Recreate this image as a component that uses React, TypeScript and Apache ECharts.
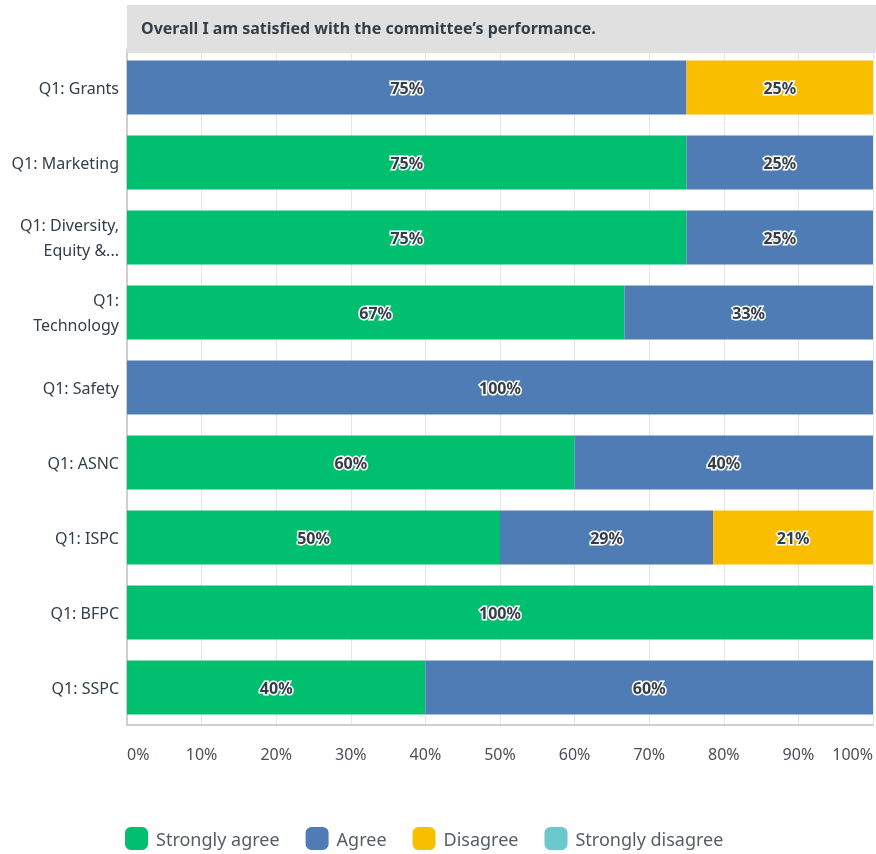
import React, { useEffect, useRef } from "react";
import * as echarts from "echarts";

const categories = [
  "Q1: Grants",
  "Q1: Marketing",
  "Q1: Diversity,\nEquity &...",
  "Q1:\nTechnology",
  "Q1: Safety",
  "Q1: ASNC",
  "Q1: ISPC",
  "Q1: BFPC",
  "Q1: SSPC",
];
const seriesNames = ["Strongly agree", "Agree", "Disagree", "Strongly disagree"];
const stronglyAgree = [0, 75, 75, 66.67, 0, 60, 50, 100, 40];
const agree = [75, 25, 25, 33.33, 100, 40, 28.57, 0, 60];
const disagree = [25, 0, 0, 0, 0, 0, 21.43, 0, 0];
const stronglyDisagree = [0, 0, 0, 0, 0, 0, 0, 0, 0];
const xTicks = [0, 10, 20, 30, 40, 50, 60, 70, 80, 90, 100];
const title = "Overall I am satisfied with the committee\u2019s performance.";

const colors = ["#00bf6f", "#507cb6", "#f9be00", "#6bc8cd"];
const FONT = "Noto Sans";

export default function App() {
  const ref = useRef<HTMLDivElement>(null);
  useEffect(() => {
    if (!ref.current) return;
    document.body.style.margin = "0";
    document.body.style.overflow = "hidden";
    const chart = echarts.init(ref.current, undefined, { renderer: "svg" });
    const allData = [stronglyAgree, agree, disagree, stronglyDisagree];
    chart.setOption({
      animation: false,
      textStyle: { fontFamily: FONT },
      grid: { left: 127, right: 0, top: 50, bottom: 129, containLabel: false },
      xAxis: {
        type: "value",
        min: xTicks[0],
        max: xTicks[xTicks.length - 1],
        interval: 10,
        axisLine: { show: true, lineStyle: { color: "#cfcfcf", width: 2 } },
        axisTick: { show: false },
        splitLine: { show: true, lineStyle: { color: "#e6e6e6", width: 1 } },
        axisLabel: {
          formatter: (v: number) => v + "%",
          color: "#4a4f55",
          fontSize: 16,
          margin: 21,
          fontFamily: FONT,
          alignMinLabel: "left",
          alignMaxLabel: "right",
        },
      },
      yAxis: {
        type: "category",
        inverse: true,
        data: categories,
        axisLine: { show: true, lineStyle: { color: "#cfcfcf", width: 2 } },
        axisTick: { show: false },
        axisLabel: {
          color: "#333e48",
          fontSize: 16,
          lineHeight: 25,
          margin: 8,
          align: "right",
          fontFamily: FONT,
        },
      },
      legend: {
        top: 827,
        left: 125,
        padding: 0,
        itemWidth: 23,
        itemHeight: 23,
        itemGap: 26,
        icon: "roundRect",
        data: seriesNames,
        textStyle: { fontSize: 18, color: "#555e66", fontFamily: FONT, padding: [0, 0, 0, 3] },
      },
      graphic: [
        {
          type: "rect",
          shape: { x: 127, y: 5, width: 749, height: 48 },
          style: { fill: "#e0e0e0" },
          z: 10,
        },
        {
          type: "text",
          x: 141,
          y: 28,
          z: 11,
          style: {
            text: title,
            font: `bold 16px "${FONT}"`,
            fill: "#333e48",
            verticalAlign: "middle",
          },
        },
      ],
      series: seriesNames.map((name, i) => ({
        name,
        type: "bar",
        stack: "total",
        barWidth: 54,
        itemStyle: { color: colors[i] },
        data: allData[i].map((v) => (v === 0 ? null : v)),
        label: {
          show: true,
          position: "inside",
          formatter: (p: any) => (p.value ? Math.round(p.value) + "%" : ""),
          color: "#333e48",
          fontSize: 16,
          fontWeight: "bold",
          fontFamily: FONT,
          textBorderColor: "#ffffff",
          textBorderWidth: 3,
        },
      })),
    });
    return () => chart.dispose();
  }, []);
  return (
    <div
      ref={ref}
      style={{ position: "fixed", left: 0, top: 0, width: 876, height: 854 }}
    />
  );
}
